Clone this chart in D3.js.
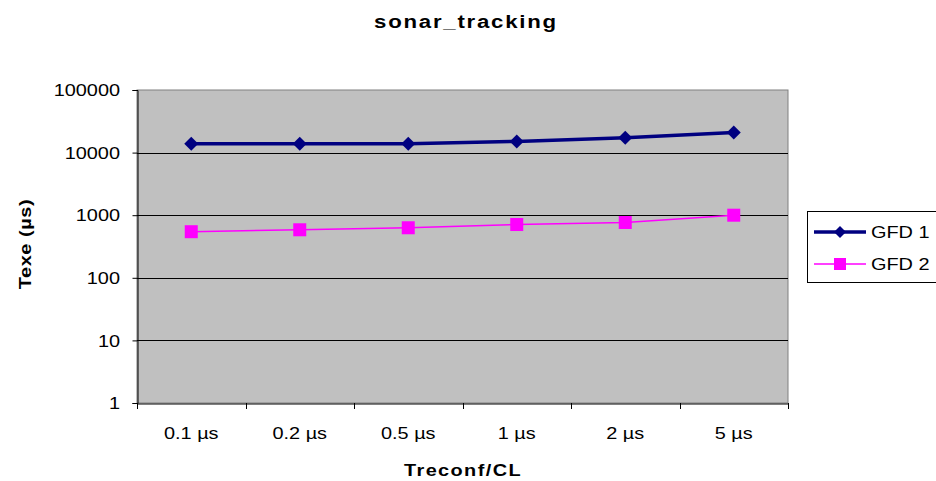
<!DOCTYPE html>
<html><head><meta charset="utf-8">
<script src="https://cdn.jsdelivr.net/npm/d3@7"></script>
<style>body{margin:0;background:#fff}svg{display:block;font-family:Arial,"Liberation Sans",sans-serif}</style>
</head><body><svg id="c" width="936" height="481"></svg>
<script>
const categories = ["0.1 µs","0.2 µs","0.5 µs","1 µs","2 µs","5 µs"];
const gfd1 = [13900, 13900, 13900, 15100, 17300, 21000];
const gfd2 = [545, 585, 630, 710, 765, 1000];
const yTicks = [1, 10, 100, 1000, 10000, 100000];
const seriesNames = ["GFD 1", "GFD 2"];

const svg = d3.select("#c");
const L = 137, R = 788, T = 90, B = 403;
const x = d3.scaleBand().domain(categories).range([L, R]);
const y = d3.scaleLog().domain([1, 100000]).range([B, T]);
const FS = 17, SX = 1.17;

function txt(g, px, py, s, o) {
  o = o || {};
  return g.append("text")
    .attr("transform", `translate(${px},${py})${o.rot ? " rotate(" + o.rot + ")" : ""} scale(${SX},1)`)
    .attr("text-anchor", o.anchor || "start")
    .attr("dy", o.dy || null)
    .attr("font-size", o.fs || FS)
    .attr("font-weight", o.bold ? "bold" : null)
    .attr("letter-spacing", o.ls || null)
    .attr("fill", "#000")
    .text(s);
}

svg.append("rect").attr("x", L).attr("y", T).attr("width", R - L).attr("height", B - T)
  .attr("fill", "#c0c0c0").attr("stroke", "#808080").attr("stroke-width", 1);

svg.append("g").selectAll("line").data(yTicks.slice(1, -1)).join("line")
  .attr("x1", L).attr("x2", R).attr("y1", d => Math.round(y(d)) + 0.5).attr("y2", d => Math.round(y(d)) + 0.5)
  .attr("stroke", "#000").attr("stroke-width", 1);

// y axis (line + ticks via d3 axis, labels drawn with stretch)
const ya = svg.append("g").attr("transform", `translate(${L + 0.5},0)`)
  .call(d3.axisLeft(y).tickValues(yTicks).tickFormat("").tickSizeOuter(0).tickSize(5));
ya.select(".domain").attr("stroke", "#000");
ya.selectAll(".tick line").attr("stroke", "#000");
const yl = svg.append("g");
yTicks.forEach(t => txt(yl, 120, y(t), d3.format("d")(t), {anchor: "end", dy: "0.36em"}));

// x axis
const xa = svg.append("g").attr("transform", `translate(0,${B + 0.5})`)
  .call(d3.axisBottom(x).tickSize(0).tickFormat(""));
xa.select(".domain").attr("stroke", "#000");
const bounds = categories.map(c => x(c)).concat([R]);
svg.append("g").selectAll("line").data(bounds).join("line")
  .attr("x1", d => Math.round(d) + 0.5).attr("x2", d => Math.round(d) + 0.5)
  .attr("y1", B).attr("y2", B + 6).attr("stroke", "#000");
const cx = c => x(c) + x.bandwidth() / 2;
const xl = svg.append("g");
categories.forEach(c => txt(xl, cx(c), 439, c, {anchor: "middle"}));

// GFD1
const line = d3.line().x((d, i) => cx(categories[i])).y(d => y(d));
svg.append("path").datum(gfd1).attr("d", line).attr("fill", "none").attr("stroke", "#000080").attr("stroke-width", 3.5);
svg.append("g").selectAll("path").data(gfd1).join("path")
  .attr("transform", (d, i) => `translate(${cx(categories[i])},${y(d)})`)
  .attr("d", "M0,-7L7,0L0,7L-7,0Z").attr("fill", "#000080");

// GFD2
svg.append("path").datum(gfd2).attr("d", line).attr("fill", "none").attr("stroke", "#ff00ff").attr("stroke-width", 1.5);
svg.append("g").selectAll("rect").data(gfd2).join("rect")
  .attr("x", (d, i) => cx(categories[i]) - 6.5).attr("y", d => y(d) - 6.5)
  .attr("width", 13).attr("height", 13).attr("fill", "#ff00ff");

// titles
txt(svg, 466, 28, "sonar_tracking", {anchor: "middle", fs: 19, bold: true, ls: 1.5});
txt(svg, 463, 476, "Treconf/CL", {anchor: "middle", bold: true, ls: 1.2});
txt(svg, 31, 244, "Texe (µs)", {anchor: "middle", bold: true, ls: 0.5, rot: -90});

// legend
const lg = svg.append("g");
lg.append("rect").attr("x", 807.5).attr("y", 211.5).attr("width", 140).attr("height", 71)
  .attr("fill", "#fff").attr("stroke", "#000");
const ly = [232, 264];
lg.append("line").attr("x1", 814).attr("x2", 866).attr("y1", ly[0]).attr("y2", ly[0]).attr("stroke", "#000080").attr("stroke-width", 3.5);
lg.append("path").attr("transform", `translate(840,${ly[0]})`).attr("d", "M0,-6L6,0L0,6L-6,0Z").attr("fill", "#000080");
lg.append("line").attr("x1", 814).attr("x2", 866).attr("y1", ly[1]).attr("y2", ly[1]).attr("stroke", "#ff00ff").attr("stroke-width", 1.5);
lg.append("rect").attr("x", 834).attr("y", ly[1] - 6).attr("width", 12).attr("height", 12).attr("fill", "#ff00ff");
seriesNames.forEach((n, i) => txt(lg, 871, ly[i], n, {dy: "0.36em"}));
</script></body></html>
